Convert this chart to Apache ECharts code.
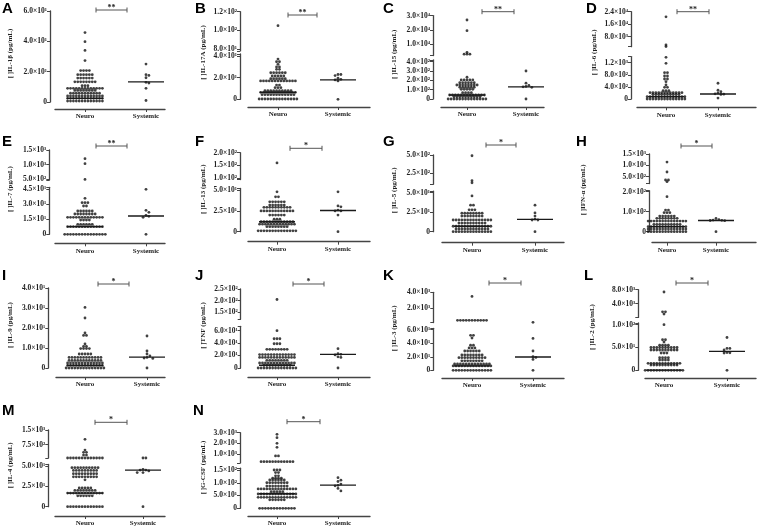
<!DOCTYPE html>
<html><head><meta charset="utf-8">
<script src="https://cdn.jsdelivr.net/npm/echarts@6/dist/echarts.min.js"></script>
<style>html,body{margin:0;padding:0;background:#fff}#c{width:759px;height:529px}</style>
</head><body><div id="c"></div>
<script>
// ---------- DATA ----------
const categories = ['Neuro', 'Systemic'];
const panelIds = ['A','B','C','D','E','F','G','H','I','J','K','L','M','N'];
const yTitles = ['[ ]IL-1β (pg/mL)','[ ]IL-17A (pg/mL)','[ ]IL-15 (pg/mL)','[ ]IL-6 (pg/mL)',
  '[ ]IL-7 (pg/mL)','[ ]IL-13 (pg/mL)','[ ]IL-5 (pg/mL)','[ ]IFN-α (pg/mL)',
  '[ ]IL-9 (pg/mL)','[ ]TNF (pg/mL)','[ ]IL-3 (pg/mL)','[ ]IL-2 (pg/mL)',
  '[ ]IL-4 (pg/mL)','[ ]G-CSF (pg/mL)'];
const significance = ['**','**','**','**','**','*','*','*','*','*','*','*','*','*'];

// Neuro: [value, number of dots at that value]; Systemic: individual values; median: [neuro, systemic]
const neuroA = [[45.8,1],[39.8,1],[34,1],[27.3,1],[20.7,4],[18,6],[15.8,6],[13.3,8],[10.7,3],[9,13],[7.6,8],[5.8,11],[4,13],[2.4,13],[0.6,13]];
const systemicA = [25,18,17.5,16,13,12.5,9,1];
const medianA = [2.4,13.3];
const yTicksA = [[0,20,40,60],[]];

const neuroB = [[105,1],[37.3,1],[34.8,2],[32.4,1],[30,2],[27.8,2],[24.6,6],[21.6,5],[19.1,6],[17,13],[13.2,2],[10.8,3],[8,10],[6.5,13],[4.3,12],[0.3,14]];
const systemicB = [23,23,22,19.5,18.5,18,17,0];
const medianB = [6.5,18];
const yTicksB = [[0,20,40],[80,100,120]];

const neuroC = [[26900,1],[19400,1],[4200,1],[2900,3],[233,1],[204,5],[175,6],[150,8],[126,6],[104,5],[68,4],[43,13],[25,10],[0,14]];
const systemicC = [300,170,145,135,130,125,0];
const medianC = [43,130];
const yTicksC = [[0,100,200,300,400],[10000,20000,30000]];

const neuroD = [[20700,1],[2600,1],[1550,1],[1376,1],[1178,1],[868,2],[759,2],[660,2],[571,1],[462,1],[386,2],[274,3],[208,12],[155,10],[76,14],[0,14]];
const systemicD = [520,290,240,200,170,160,150,30];
const medianD = [76,165];
const yTicksD = [[0,400,800,1200],[8000,16000,24000]];

const neuroE = [[1205,1],[1034,1],[500,1],[36,1],[31.6,3],[28.3,2],[23.3,6],[20.3,8],[17,13],[14.3,4],[10,6],[7.6,13],[0,15]];
const systemicE = [45,24,22,19,18,17,0];
const medianE = [7.6,18.3];
const yTicksE = [[0,15,30,45],[500,1000,1500]];

const neuroF = [[160,1],[48,1],[42,2],[36,6],[32,6],[29.4,10],[25,12],[20,6],[15,3],[12,12],[9,13],[6,8],[1,14]];
const systemicF = [48,31,30,26,25,25,20,0];
const medianF = [12,25.5];
const yTicksF = [[0,25,50],[100,150,200]];

const neuroG = [[490,1],[150,1],[120,1],[45.8,1],[34,2],[28,3],[23.6,8],[20,8],[15,14],[11,10],[7,14],[3.5,12],[0,14]];
const systemicG = [34,24,20,16,15,15,0];
const medianG = [7,15.9];
const yTicksG = [[0,25,50],[250,500]];

const neuroH = [[1145,1],[707,1],[355,2],[280,1],[175,1],[108,2],[95,3],[78,6],[67,8],[53,14],[37,10],[25,14],[13,14],[0,14]];
const systemicH = [66,60,58,57,56,55,0];
const medianH = [25,56];
const yTicksH = [[0,100,200],[500,1000,1500]];

const neuroI = [[30.3,1],[25,1],[17.5,1],[16.3,2],[12,1],[10.8,2],[9.7,4],[7,5],[5.3,12],[3.8,12],[2.5,13],[1.3,13],[0,14]];
const systemicI = [16,8.5,7,6,5.3,5,4.8,0];
const medianI = [1.3,5.4];
const yTicksI = [[0,10,20,30,40],[]];

const neuroJ = [[205,1],[60,1],[47,3],[39,3],[30,8],[21.5,13],[17,13],[12.4,8],[8,13],[4.4,10],[0,14]];
const systemicJ = [31,23,22,21,18,17,0];
const medianJ = [4.4,22];
const yTicksJ = [[0,20,40,60],[150,200,250]];

const neuroK = [[3470,1],[380,11],[51.7,2],[47.7,1],[37,2],[33,3],[28.5,6],[22.6,8],[18.6,10],[14,8],[9.3,13],[6.4,14],[0,14]];
const systemicK = [120,47,28.5,20,19,16,0];
const medianK = [6.4,19.6];
const yTicksK = [[0,20,40,60],[2000,4000]];

const neuroL = [[7340,1],[1700,2],[1040,1],[100,1],[67,2],[62,1],[55,4],[50,10],[44.5,10],[38,3],[27.6,4],[22.6,4],[15.3,12],[11.6,10],[0,14]];
const systemicL = [72,48,48,44.5,39,38.5,38,0];
const medianL = [0.5,41.6];
const yTicksL = [[0,50,100],[4000,8000]];

const neuroM = [[1020,1],[470,1],[350,2],[210,2],[60,13],[48,10],[44.6,9],[40.5,9],[36.7,9],[33,1],[23,5],[20,8],[16.7,13],[13.4,6],[0,13]];
const systemicM = [60,60,46,45,45,44,42,42,0];
const medianM = [16.7,45];
const yTicksM = [[0,25,50],[750,1500]];

const neuroN = [[2850,1],[2540,1],[2020,1],[1650,1],[850,2],[320,12],[150,3],[140,2],[127,2],[118,4],[111,6],[100,8],[87,8],[76,14],[65,5],[56,14],[43,14],[33,6],[0,13]];
const systemicN = [120,110,105,95,90,88,78,68];
const medianN = [57,91];
const yTicksN = [[0,50,100,150],[1000,2000,3000]];

// ---------- LAYOUT (pixel placement, axis ranges) ----------
const layout = {
 A:{ax:50,   low:[0,60],  lowPx:[102,11],    up:null,         upPx:null,         xY:109,   xSpan:[55,165],  cat:[85,146],  br:[96,127,10],    letter:[2,9],     titleX:10},
 B:{ax:240,  low:[0,42],  lowPx:[99.3,54],   up:[78,120],     upPx:[50.9,11.7],  xY:107,   xSpan:[248,370], cat:[278,338], br:[288,317,15],   letter:[195,9],   titleX:203},
 C:{ax:433,  low:[0,420], lowPx:[99,59.8],   up:[2000,30000], upPx:[55.5,15.6],  xY:107,   xSpan:[441,544], cat:[467,526], br:[482,514,11.7], letter:[383,9],   titleX:394},
 D:{ax:631,  low:[0,1400],lowPx:[99,56.6],   up:[1500,24000], upPx:[46.7,11.7],  xY:107.3, xSpan:[637,756], cat:[666,718], br:[677,709,11.7], letter:[586,9],   titleX:594},
 E:{ax:49.3, low:[0,47],  lowPx:[234.3,187.3],up:[480,1500],  upPx:[180,150],    xY:243.3, xSpan:[55,165],  cat:[85,146],  br:[96,127,146],   letter:[2,142],   titleX:10},
 F:{ax:240,  low:[0,52],  lowPx:[231.7,188.5],up:[95,200],    upPx:[179.6,152.7],xY:241.7, xSpan:[248,370], cat:[277,338], br:[290,322,148.3],letter:[195,142], titleX:203},
 G:{ax:433,  low:[0,52],  lowPx:[231.7,191.1],up:[100,500],   upPx:[184.3,155],  xY:242.7, xSpan:[442,564], cat:[472,535], br:[486,516,145],  letter:[383,142], titleX:394},
 H:{ax:649,  low:[0,205], lowPx:[231.7,190.7],up:[200,1500],  upPx:[183.5,154],  xY:242.7, xSpan:[652,756], cat:[667,716], br:[681,712,146],  letter:[576,142], titleX:583},
 I:{ax:48.3, low:[0,40],  lowPx:[368,288],   up:null,         upPx:null,         xY:377,   xSpan:[56,165],  cat:[85,147],  br:[98,129,284],   letter:[2,276],   titleX:10},
 J:{ax:240.7,low:[0,67],  lowPx:[368,326.3], up:[120,250],    upPx:[319.3,289],  xY:377,   xSpan:[248,370], cat:[277,338], br:[293,324,284],  letter:[195,276], titleX:203},
 K:{ax:433.3,low:[0,62],  lowPx:[370.3,328.3],up:[100,4000],  upPx:[322.5,292.3],xY:378,   xSpan:[442,564], cat:[472,533], br:[489,521,283],  letter:[383,276], titleX:394},
 L:{ax:638.3,low:[0,104], lowPx:[370.3,322.9],up:[100,8000],  upPx:[317.4,289.7],xY:378,   xSpan:[645,756], cat:[664,727], br:[676,708,283],  letter:[584,276], titleX:592},
 M:{ax:48.3, low:[0,52],  lowPx:[506.7,464.4],up:[60,1500],   upPx:[458,430],    xY:516,   xSpan:[55,165],  cat:[85,143],  br:[95,127,422.3], letter:[2,411],   titleX:10},
 N:{ax:240,  low:[0,157], lowPx:[508.3,468.2],up:[200,3000],  upPx:[463,432.7],  xY:516,   xSpan:[248,370], cat:[277,338], br:[287,320,421.7],letter:[193,411], titleX:203}
};

const panelData = {
 A:[neuroA,systemicA,medianA,yTicksA], B:[neuroB,systemicB,medianB,yTicksB],
 C:[neuroC,systemicC,medianC,yTicksC], D:[neuroD,systemicD,medianD,yTicksD],
 E:[neuroE,systemicE,medianE,yTicksE], F:[neuroF,systemicF,medianF,yTicksF],
 G:[neuroG,systemicG,medianG,yTicksG], H:[neuroH,systemicH,medianH,yTicksH],
 I:[neuroI,systemicI,medianI,yTicksI], J:[neuroJ,systemicJ,medianJ,yTicksJ],
 K:[neuroK,systemicK,medianK,yTicksK], L:[neuroL,systemicL,medianL,yTicksL],
 M:[neuroM,systemicM,medianM,yTicksM], N:[neuroN,systemicN,medianN,yTicksN]
};

// ---------- helpers ----------
const SERIF = '"Liberation Serif", "DejaVu Serif", serif';
const AX = '#444';
const DOT = '#111';
const SP = 2.9, DOT_SIZE = 2.8, MED_HALF = 18;
const SUP = {'0':'⁰','1':'¹','2':'²','3':'³','4':'⁴','5':'⁵','6':'⁶','7':'⁷','8':'⁸','9':'⁹'};
function fmt(v) {
  if (Math.abs(v) < 1e-9) return '0';
  const e = Math.floor(Math.log10(v) + 1e-9);
  const m = v / Math.pow(10, e);
  return m.toFixed(1) + '×10' + String(e).split('').map(c => SUP[c]).join('');
}

const chart = echarts.init(document.getElementById('c'), null, {renderer: 'canvas'});
const option = {animation:false, backgroundColor:'#fff', grid:[], xAxis:[], yAxis:[], series:[], graphic:{elements:[]}};
const G = option.graphic.elements;

panelIds.forEach((id, k) => {
  const L = layout[id];
  const [neuro, sys, med, ticks] = panelData[id];
  const scale = L.cat[1] - L.cat[0];
  const xmin = -(L.cat[0] - L.ax) / scale;
  const xmax = 1 + (L.xSpan[1] - L.cat[1]) / scale;
  const segs = [{key:'low', range:L.low, px:L.lowPx, ticks:ticks[0]}];
  if (L.up) segs.push({key:'up', range:L.up, px:L.upPx, ticks:ticks[1]});
  const gi = {};
  segs.forEach(s => {
    const idx = option.grid.length;
    option.grid.push({left:L.ax, top:s.px[1], width:L.xSpan[1]-L.ax, height:s.px[0]-s.px[1],
      containLabel:false, outerBoundsMode:'none'});
    option.xAxis.push({type:'value', gridIndex:idx, min:xmin, max:xmax, show:false});
    const tickVals = s.ticks.slice();
    if (L.up) tickVals.push(s.key === 'low' ? s.range[1] : s.range[0]);
    option.yAxis.push({type:'value', gridIndex:idx, min:s.range[0], max:s.range[1],
      axisLine:{show:true, onZero:false, lineStyle:{color:AX, width:1.3}},
      axisTick:{show:true, length:3, customValues:tickVals, lineStyle:{color:AX, width:1}},
      axisLabel:{show:true, customValues:s.ticks, formatter:fmt, fontFamily:SERIF, fontWeight:'bold',
        fontSize:7.5, color:'#222', margin:3},
      splitLine:{show:false}});
    gi[s.key] = idx;
  });
  const segOf = v => (L.up && v > L.low[1]) ? 'up' : 'low';
  const pxOf = v => {
    const s = segOf(v) === 'up' ? {r:L.up, p:L.upPx} : {r:L.low, p:L.lowPx};
    return s.p[0] - (v - s.r[0]) / (s.r[1] - s.r[0]) * (s.p[0] - s.p[1]);
  };
  // Neuro: rows of dots
  const npts = {low:[], up:[]};
  neuro.forEach(([v, n]) => {
    for (let i = 0; i < n; i++) {
      npts[segOf(v)].push({value:[0, v], symbolOffset:[(i - (n - 1) / 2) * SP, 0]});
    }
  });
  // Systemic: simple collision-avoiding swarm
  const spts = {low:[], up:[]};
  const placed = [];
  sys.forEach(v => {
    const py = pxOf(v);
    const cands = [0, SP, -SP, 2*SP, -2*SP, 3*SP, -3*SP];
    let dx = 0;
    for (const c of cands) {
      if (!placed.some(p => Math.abs(p[0]-c) < 2.6 && Math.abs(p[1]-py) < 2.6)) { dx = c; break; }
    }
    placed.push([dx, py]);
    spts[segOf(v)].push({value:[1, v], symbolOffset:[dx, 0]});
  });
  ['low','up'].forEach(key => {
    if (gi[key] === undefined) return;
    const pts = npts[key].concat(spts[key]);
    if (!pts.length) return;
    option.series.push({type:'scatter', xAxisIndex:gi[key], yAxisIndex:gi[key], data:pts,
      symbol:'circle', symbolSize:DOT_SIZE, itemStyle:{color:DOT}, clip:false, silent:true});
  });
  // medians
  med.forEach((m, c) => {
    const key = segOf(m);
    const hw = MED_HALF / scale;
    option.series.push({type:'line', xAxisIndex:gi[key], yAxisIndex:gi[key],
      data:[[c - hw, m], [c + hw, m]], symbol:'none', clip:false, silent:true,
      lineStyle:{color:'#1a1a1a', width:1.3}, z:3});
  });
  // category axis line (separate, offset like the original)
  const gx = option.grid.length;
  option.grid.push({left:L.xSpan[0], top:L.xY-4, width:L.xSpan[1]-L.xSpan[0], height:4,
    containLabel:false, outerBoundsMode:'none'});
  option.xAxis.push({type:'value', gridIndex:gx,
    min:-(L.cat[0]-L.xSpan[0])/scale, max:1+(L.xSpan[1]-L.cat[1])/scale, position:'bottom',
    axisLine:{show:true, onZero:false, lineStyle:{color:AX, width:1.4}},
    axisTick:{show:true, customValues:[0,1], length:3, lineStyle:{color:AX}},
    axisLabel:{show:true, customValues:[0,1], formatter:v => categories[Math.round(v)],
      fontFamily:SERIF, fontWeight:'bold', fontSize:7, color:'#222', margin:4},
    splitLine:{show:false}});
  option.yAxis.push({type:'value', gridIndex:gx, min:0, max:1, show:false});

  // panel letter
  G.push({type:'text', x:L.letter[0], y:L.letter[1], silent:true,
    style:{text:id, font:'bold 15px "Liberation Sans", Arial, sans-serif', fill:'#000', verticalAlign:'middle'}});
  // y title
  const topPx = L.up ? L.upPx[1] : L.lowPx[1];
  G.push({type:'text', x:L.titleX, y:(L.lowPx[0] + topPx) / 2 - 3, rotation:Math.PI/2, silent:true,
    style:{text:yTitles[k], font:'bold 7px ' + SERIF, fill:'#222', align:'center', verticalAlign:'middle'}});
  // significance bracket
  const [x1, x2, by] = L.br;
  const ls = {stroke:'#555', lineWidth:1};
  G.push({type:'line', silent:true, shape:{x1:x1, y1:by, x2:x2, y2:by}, style:ls});
  G.push({type:'line', silent:true, shape:{x1:x1, y1:by-2.5, x2:x1, y2:by+2.5}, style:ls});
  G.push({type:'line', silent:true, shape:{x1:x2, y1:by-2.5, x2:x2, y2:by+2.5}, style:ls});
  G.push({type:'text', x:(x1+x2)/2, y:by-2, silent:true,
    style:{text:significance[k], font:'bold 8px ' + SERIF, fill:'#222', align:'center', verticalAlign:'middle'}});
});

chart.setOption(option);
</script></body></html>
